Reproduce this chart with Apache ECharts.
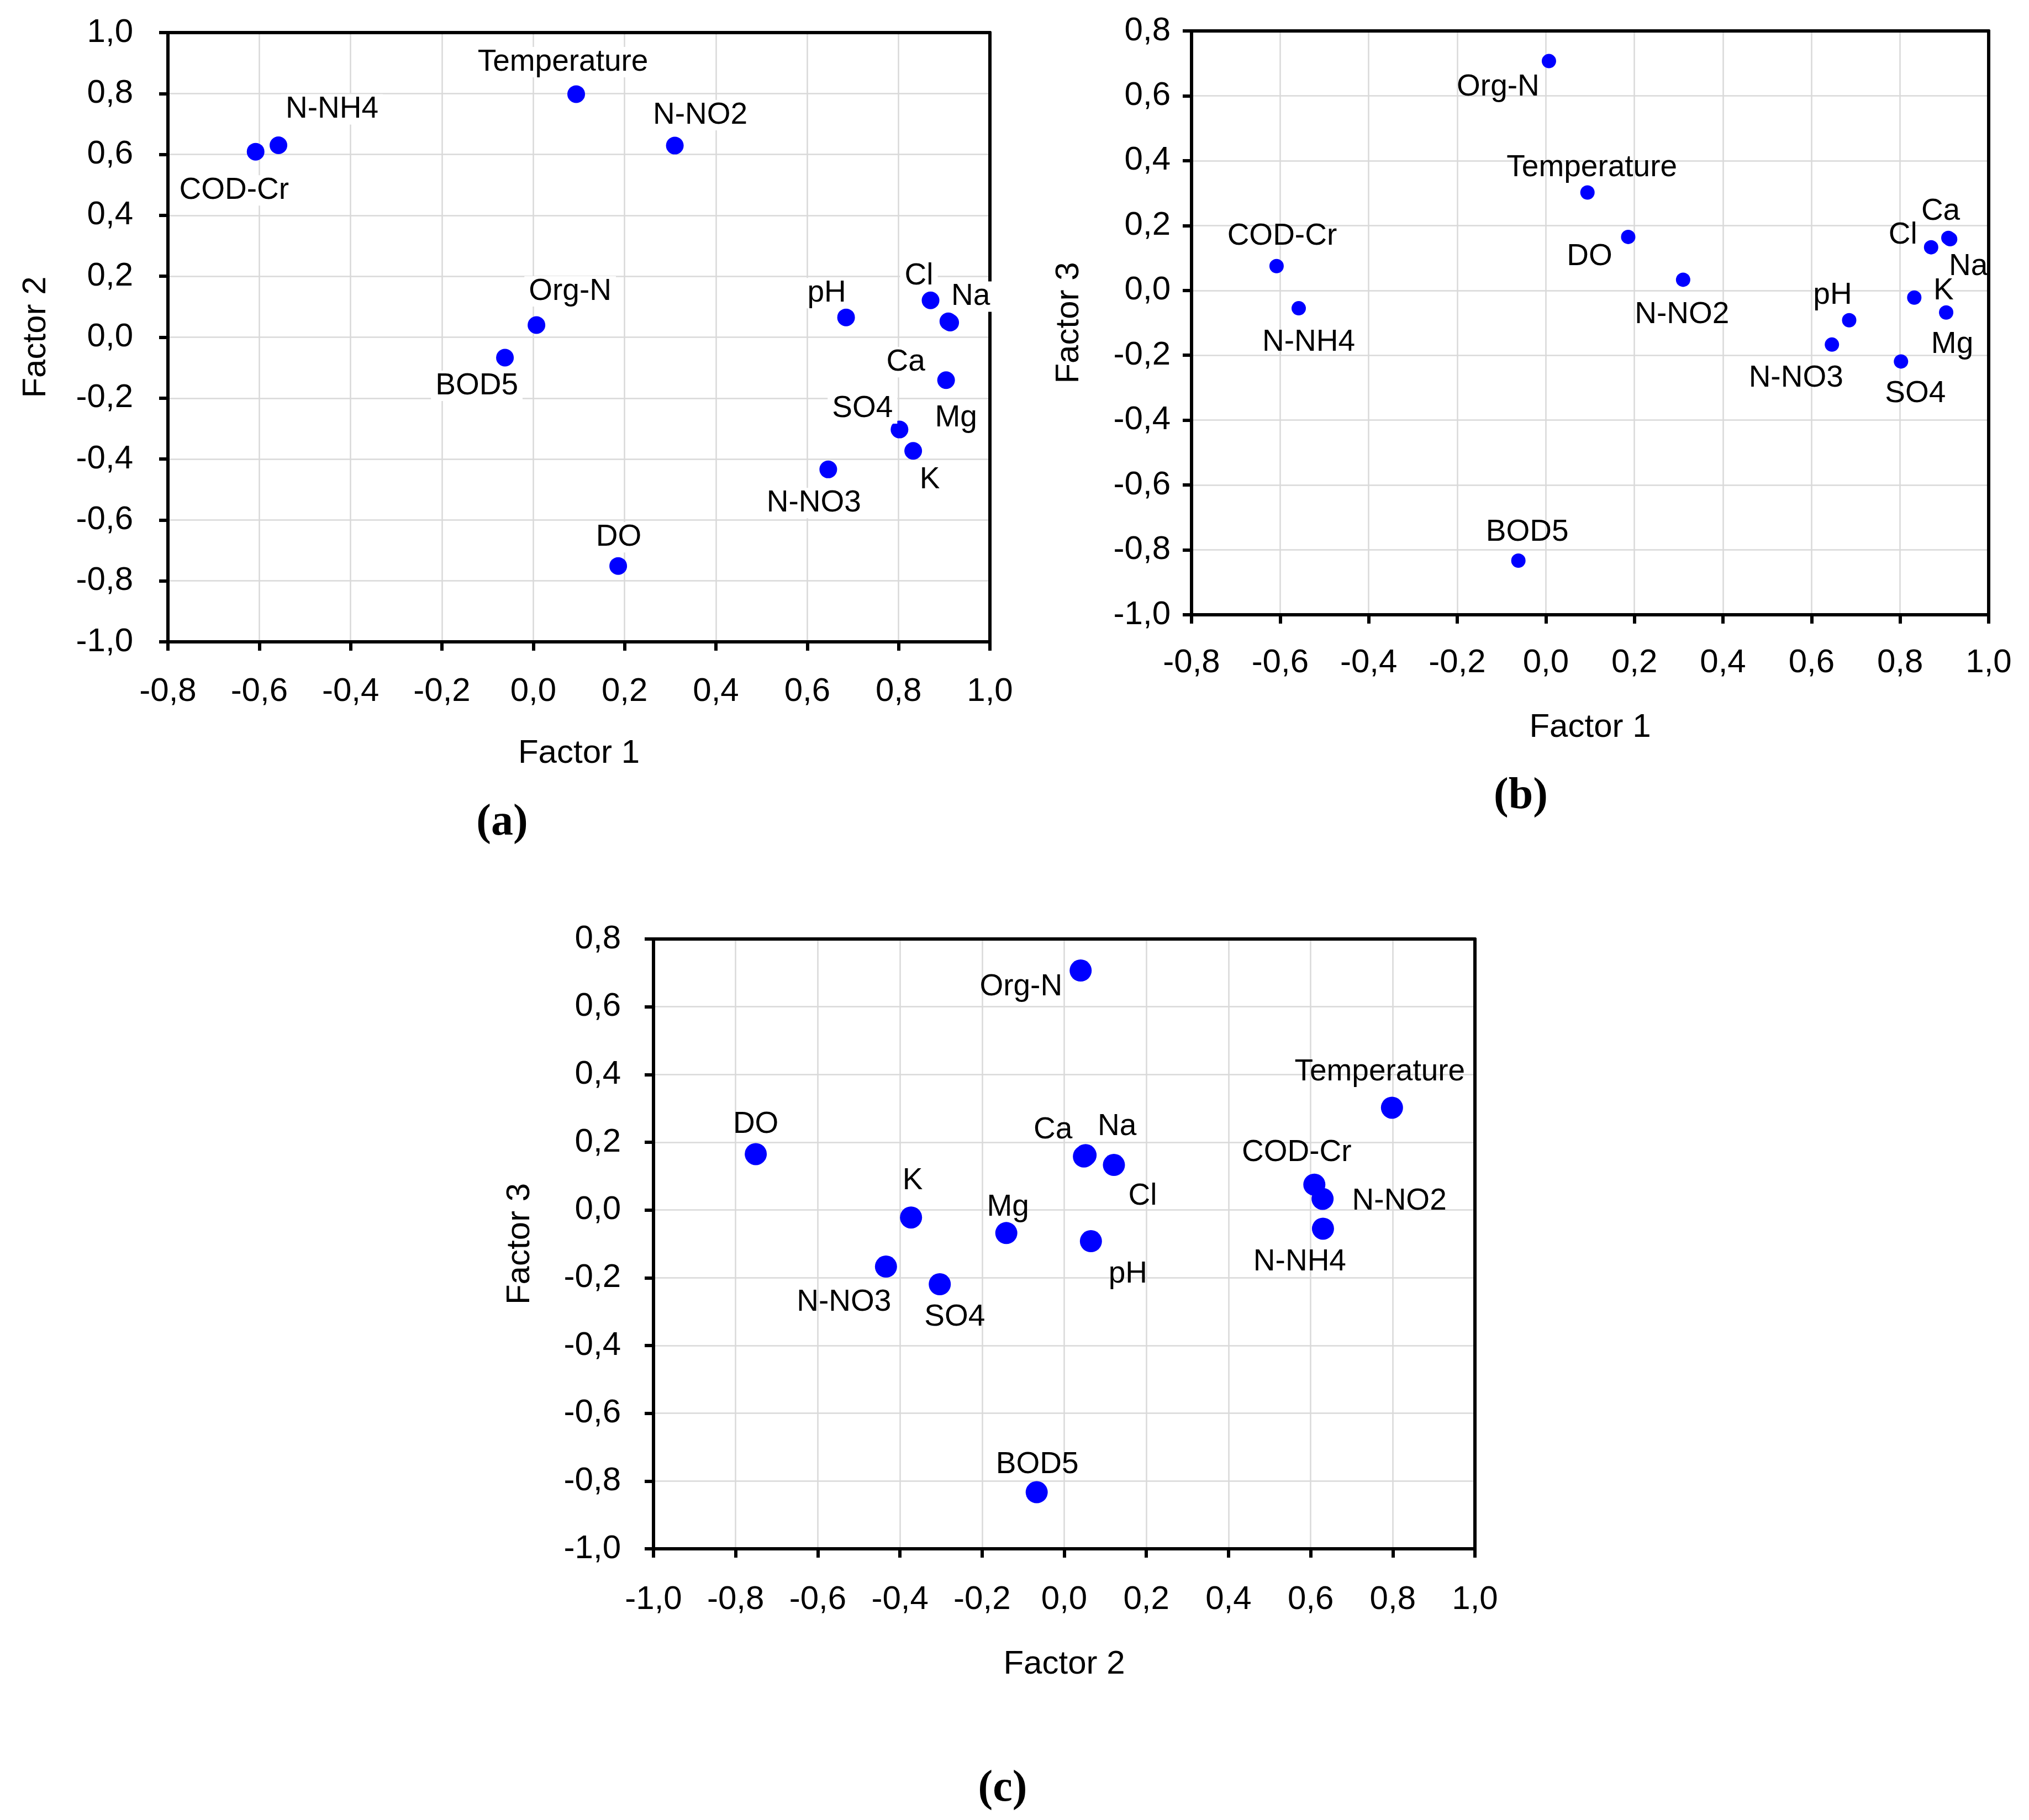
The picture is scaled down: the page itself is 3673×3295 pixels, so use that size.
<!DOCTYPE html>
<html>
<head>
<meta charset="utf-8">
<title>Factor loadings</title>
<script src="https://cdn.jsdelivr.net/npm/echarts@6.0.0/dist/echarts.min.js"></script>
<style>
    html, body { margin: 0; padding: 0; background: #fff; }
    #main { width: 3673px; height: 3295px; }
</style>
</head>
<body>
<div id="main"></div>
<script>
// variables and their loadings on the three factors
var names   = ['COD-Cr', 'N-NH4', 'Temperature', 'N-NO2', 'Org-N', 'BOD5', 'pH', 'Cl', 'Na', 'Ca', 'Mg', 'K', 'SO4', 'N-NO3', 'DO'];
var factor1 = [-0.608, -0.558, 0.094, 0.310, 0.007, -0.062, 0.685, 0.870, 0.913, 0.909, 0.904, 0.832, 0.802, 0.646, 0.186];
var factor2 = [0.609, 0.630, 0.798, 0.629, 0.040, -0.067, 0.065, 0.121, 0.048, 0.052, -0.141, -0.373, -0.303, -0.434, -0.751];
var factor3 = [0.075, -0.055, 0.302, 0.033, 0.707, -0.833, -0.092, 0.133, 0.158, 0.162, -0.068, -0.022, -0.219, -0.167, 0.165];

// axis ranges (ticks every 0,2)
var rangeF1 = [-0.8, 1.0];
var rangeF2 = [-1.0, 1.0];
var rangeF3 = [-1.0, 0.8];

// label offsets (px) from each point, same order as names
var offsA = [[-39, 70], [97, -65], [-24, -58], [46, -55], [61, -61], [-51, 51], [-35, -44], [-21, -44],
             [37, -47], [-77, 74], [18, 69], [30, 53], [-67, -38], [-26, 61], [1, -52]];
var offsB = [[10, -54], [18, 62], [8, -45], [-2, 63], [-92, 47], [16, -51], [-30, -45], [-51, -22],
             [33, 50], [-14, -48], [11, 58], [53, -12], [26, 58], [-65, 61], [-70, 36]];
var offsC = [[-32, -58], [-42, 60], [-22, -65], [139, 4], [-108, 30], [1, -50], [67, 60], [52, 57],
             [60, -54], [-59, -45], [3, -47], [3, -66], [27, 60], [-76, 65], [0, -54]];

var sans = '"Liberation Sans", Arial, sans-serif';

var panels = [
    { box: [304, 59, 1488, 1103], xs: factor1, ys: factor2, xr: rangeF1, yr: rangeF2, xName: 'Factor 1', yName: 'Factor 2',
      size: 32, offs: offsA, bg: true, yLabelGap: 63, xLabelGap: 60, yNameGap: 239, xNameGap: 202, tag: '(a)', tagPos: [909, 1490] },
    { box: [2157, 56, 1443, 1057], xs: factor1, ys: factor3, xr: rangeF1, yr: rangeF3, xName: 'Factor 1', yName: 'Factor 3',
      size: 26, offs: offsB, bg: false, yLabelGap: 38, xLabelGap: 57, yNameGap: 222, xNameGap: 204, tag: '(b)', tagPos: [2753, 1442] },
    { box: [1183, 1700, 1487, 1104], xs: factor2, ys: factor3, xr: rangeF2, yr: rangeF3, xName: 'Factor 2', yName: 'Factor 3',
      size: 40, offs: offsC, bg: false, yLabelGap: 59, xLabelGap: 62, yNameGap: 242, xNameGap: 209, tag: '(c)', tagPos: [1815, 3239] }
];

function fmt(v) {
    if (Math.abs(v) < 1e-9) v = 0;
    return v.toFixed(1).replace('.', ',');
}

var blackLine = { color: '#000', width: 6, opacity: 1 };

// main axis (with ticks, labels, grid lines)
function mainAxis(i, range, name, labelGap, nameGap, isY) {
    return {
        type: 'value', gridIndex: i, min: range[0], max: range[1], interval: 0.2,
        position: isY ? 'left' : 'bottom',
        name: name, nameLocation: 'middle', nameGap: nameGap, nameRotate: isY ? 90 : 0,
        nameTextStyle: { fontSize: 60, color: '#000', fontFamily: sans, align: 'center', verticalAlign: 'middle' },
        axisLine: { show: true, onZero: false, lineStyle: blackLine },
        axisTick: { show: true, inside: false, length: 16, lineStyle: blackLine },
        axisLabel: { margin: labelGap, fontSize: 60, color: '#000', fontFamily: sans, formatter: fmt },
        splitLine: { show: true, showMinLine: false, showMaxLine: false, lineStyle: { color: '#d9d9d9', width: 2.5 } }
    };
}

// plain frame line on the opposite side
function frameAxis(i, range, isY) {
    return {
        type: 'value', gridIndex: i, min: range[0], max: range[1],
        position: isY ? 'right' : 'top', z: 3,
        axisLine: { show: true, onZero: false, lineStyle: blackLine },
        axisTick: { show: false }, axisLabel: { show: false }, splitLine: { show: false }
    };
}

var option = { backgroundColor: '#fff', animation: false, grid: [], xAxis: [], yAxis: [], series: [], graphic: [] };

panels.forEach(function(p, i) {
    option.grid.push({ left: p.box[0], top: p.box[1], width: p.box[2], height: p.box[3], show: false, outerBoundsMode: 'none' });
    option.xAxis.push(mainAxis(i, p.xr, p.xName, p.xLabelGap, p.xNameGap, false));
    option.xAxis.push(frameAxis(i, p.xr, false));
    option.yAxis.push(mainAxis(i, p.yr, p.yName, p.yLabelGap, p.yNameGap, true));
    option.yAxis.push(frameAxis(i, p.yr, true));

    var data = names.map(function(n, k) {
        return { name: n, value: [p.xs[k], p.ys[k]], label: { offset: p.offs[k] } };
    });
    option.series.push({
        type: 'scatter', xAxisIndex: 2 * i, yAxisIndex: 2 * i, z: 4,
        symbol: 'circle', symbolSize: p.size,
        itemStyle: { color: '#0000ff', opacity: 1 },
        label: {
            show: true, position: 'inside', formatter: '{b}', fontSize: 55, color: '#000', fontFamily: sans,
            align: 'center', verticalAlign: 'middle',
            backgroundColor: p.bg ? '#fff' : 'transparent', padding: p.bg ? [0, 8] : 0
        },
        emphasis: { disabled: true },
        data: data
    });

    option.graphic.push({
        type: 'text', x: p.tagPos[0], y: p.tagPos[1],
        style: { text: p.tag, font: 'bold 80px "Liberation Serif", "Times New Roman", serif', fill: '#000',
                 align: 'center', verticalAlign: 'middle', textAlign: 'center', textVerticalAlign: 'middle' }
    });
});

var chart = echarts.init(document.getElementById('main'), null, { renderer: 'canvas' });
chart.setOption(option);
</script>
</body>
</html>
